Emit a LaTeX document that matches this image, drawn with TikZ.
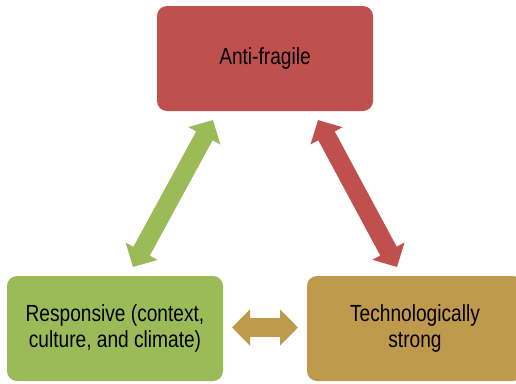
\documentclass[tikz,border=0pt]{standalone}
\usepackage{fontspec}
\setmainfont[FakeStretch=0.82]{Liberation Sans}
\usepackage{tikz}
\usetikzlibrary{positioning, arrows.meta, calc}
\usepackage{xcolor}

\definecolor{antired}{HTML}{C0504D}
\definecolor{respgreen}{HTML}{9BBB59}
\definecolor{techgold}{HTML}{BF9A4C}

\begin{document}
\begin{tikzpicture}[x=0.75pt, y=-0.75pt,
		box/.style={rectangle, rounded corners=7.5pt, minimum width=162pt, minimum height=78.75pt,
			align=center, font=\fontsize{17.5}{19.5}\selectfont, text=black},
		link/.style={line width=14pt, {Triangle[width=26.5pt, length=13.5pt]}-{Triangle[width=26.5pt, length=13.5pt]}}]
						\useasboundingbox (0,0) rectangle (516,383);
						\node[box, fill=antired] (anti) at (265,58.5) {Anti-fragile};
						\node[box, fill=respgreen] (resp) at (115,328.5) {Responsive (context,\\culture, and climate)};
						\node[box, fill=techgold] (tech) at (415,328.5) {Technologically\\strong};
						% ends of the block arrows
						\coordinate (g1) at (213,120);
						\coordinate (g2) at (133,267);
						\coordinate (r1) at (318,120);
						\coordinate (r2) at (397,267);
						\coordinate (t1) at (232,327.5);
						\coordinate (t2) at (298,327.5);
						\draw[link, respgreen] (g1) -- (g2);
						\draw[link, antired] (r1) -- (r2);
						\draw[link, techgold] (t1) -- (t2);
					\end{tikzpicture}
\end{document}
